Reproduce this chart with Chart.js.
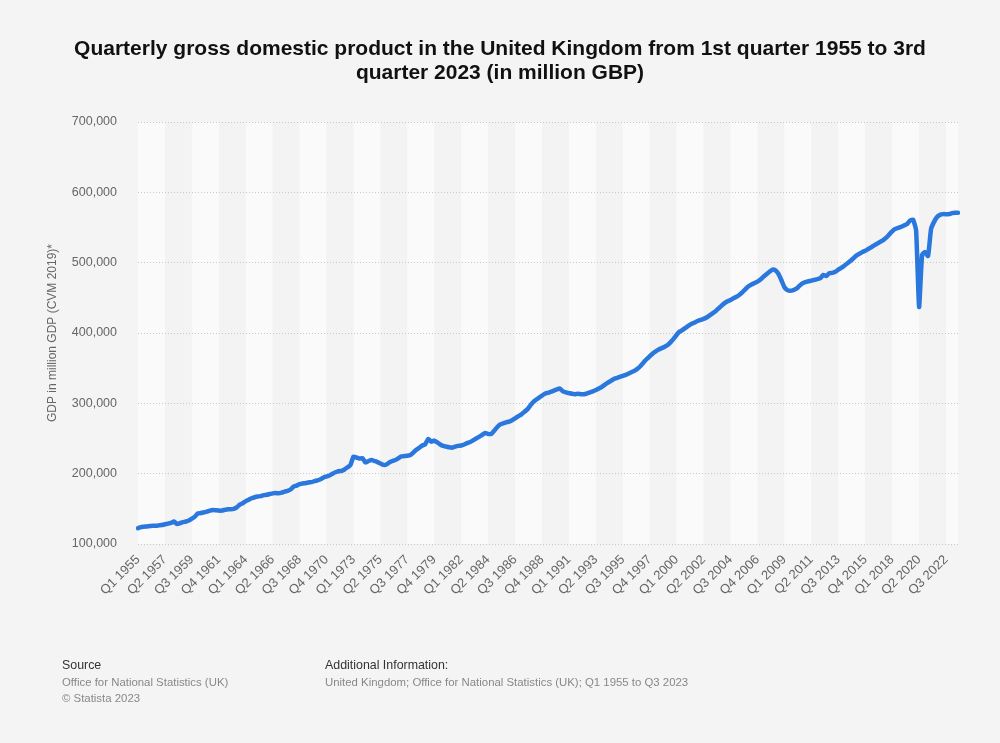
<!DOCTYPE html>
<html>
<head>
<meta charset="utf-8">
<script src="https://cdn.jsdelivr.net/npm/chart.js@4/dist/chart.umd.min.js"></script>
<style>
  html, body { margin: 0; padding: 0; background: #f4f4f4; }
  body { width: 1000px; height: 743px; position: relative; overflow: hidden; font-family: "Liberation Sans", Arial, sans-serif; }
  #title { position: absolute; left: 0; top: 36px; width: 1000px; text-align: center; font-weight: bold; font-size: 21px; line-height: 24px; color: #111; }
  #chartBox { position: absolute; left: 0; top: 0; width: 1000px; height: 743px; }
  .foot { position: absolute; top: 657px; line-height: 16.5px; }
  .foot .h { font-size: 12.4px; color: #333; }
  .foot .t { font-size: 11.4px; color: #888; }
</style>
</head>
<body>
<div id="chartBox"><canvas id="c" width="1000" height="743"></canvas></div>
<div id="title">Quarterly gross domestic product in the United Kingdom from 1st quarter 1955 to 3rd<br>quarter 2023 (in million GBP)</div>
<div class="foot" style="left:62px;"><div class="h">Source</div><div class="t">Office for National Statistics (UK)</div><div class="t">© Statista 2023</div></div>
<div class="foot" style="left:325px;"><div class="h">Additional Information:</div><div class="t">United Kingdom; Office for National Statistics (UK); Q1 1955 to Q3 2023</div></div>
<script>
const firstYear = 1955;
const lastYear = 2023;
const lastQuarter = 3;
const quarterNames = ["Q1", "Q2", "Q3", "Q4"];
const tickEvery = 9;
const yTicks = [100000, 200000, 300000, 400000, 500000, 600000, 700000];
const yTitle = "GDP in million GDP (CVM 2019)*";
const seriesName = "GDP";

const categories = [];
for (let y = firstYear; y <= lastYear; y++) {
  for (let q = 0; q < 4; q++) {
    if (y === lastYear && q >= lastQuarter) break;
    categories.push(quarterNames[q] + " " + y);
  }
}

const gdp = [
  122500, 124000, 124500, 125000,
  125500, 126000, 126000, 126500,
  127000, 128000, 129000, 130000,
  132000, 128500, 129500, 131000,
  132000, 133500, 136000, 139000,
  143500, 144000, 145000, 146000,
  147500, 148500, 148000, 147500,
  147500, 148500, 149500, 149500,
  150000, 152000, 156000, 158000,
  161000, 163000, 165000, 166500,
  167500, 168000, 169500, 170000,
  171000, 172000, 172500, 172000,
  173000, 174500, 175500, 177500,
  181500, 183000, 185000, 186000,
  186500, 187500, 188000, 189500,
  190500, 192000, 194500, 196000,
  197500, 200000, 202000, 203500,
  204000, 206000, 209000, 212500,
  224000, 223000, 221500, 222000,
  216000, 218000, 219500, 218000,
  216500, 214500, 212500, 213000,
  216000, 218000, 219500, 222000,
  224500, 225000, 225500, 226500,
  230000, 234000, 237000, 240000,
  242000, 249500, 245500, 247000,
  244500, 241500, 239500, 238500,
  237500, 237000, 238500, 239500,
  240000, 241500, 243500, 245000,
  247500, 250000, 252500, 255000,
  258000, 256500, 256500, 261000,
  266000, 270000, 271500, 273000,
  274000, 276000, 278500, 281500,
  284000, 287500, 291000, 296500,
  301500, 305000, 308000, 311000,
  313500, 315000, 316500, 318000,
  320000, 321000, 317000, 315500,
  314500, 313500, 313000, 313500,
  313000, 313000, 314000, 315500,
  317000, 319000, 321000, 323500,
  326500, 329500, 332000, 334500,
  336000, 337500, 339000, 340500,
  342500, 344500, 346500, 349500,
  353500, 358500, 363000, 367000,
  371000, 374000, 376500, 378500,
  380500, 383000, 387000, 392000,
  397500, 402000, 404500, 407500,
  410500, 413000, 415000, 417000,
  418500, 420000, 422000, 425000,
  428000, 431000, 435000, 439000,
  442500, 445000, 447000, 449500,
  451500, 454500, 458000, 462500,
  466500, 469000, 471000, 473000,
  476000, 480000, 483500, 487000,
  490000, 489000, 484000, 475000,
  465000, 461000, 460000, 461000,
  463000, 467000, 470500, 472500,
  473500, 474500, 475500, 476500,
  478000, 482500, 481000, 485000,
  485500, 487000, 490000, 492500,
  495500, 499000, 502500, 506000,
  510000, 512500, 515000, 517000,
  519500, 522000, 524500, 527000,
  529500, 532000, 535500, 540000,
  544500, 548000, 549500, 551000,
  553000, 555000, 560000, 561000,
  546000, 437000, 511000, 515000,
  509500, 548000, 558000, 565000,
  568000, 569000, 569000, 569000,
  570500, 571000, 571000
];

const stripePlugin = {
  id: 'stripes',
  beforeDraw(chart) {
    const { ctx, chartArea } = chart;
    const xs = chart.scales.x;
    ctx.save();
    let k = 0;
    for (let i = 0; i < categories.length; i += tickEvery, k++) {
      const x0 = xs.getPixelForValue(i);
      const xe = (i + tickEvery >= categories.length) ? chartArea.right : xs.getPixelForValue(i + tickEvery);
      ctx.fillStyle = (k % 2 === 0) ? '#fafafa' : '#f3f3f3';
      ctx.fillRect(x0, chartArea.top, xe - x0, chartArea.bottom - chartArea.top);
    }
    ctx.restore();
  }
};

Chart.defaults.font.family = '"Liberation Sans", Arial, sans-serif';

new Chart(document.getElementById('c'), {
  type: 'line',
  data: {
    labels: categories,
    datasets: [{
      label: seriesName,
      data: gdp,
      borderColor: '#2a77dd',
      borderWidth: 4.5,
      pointRadius: 0,
      tension: 0.15,
      borderJoinStyle: 'round',
      borderCapStyle: 'round',
      fill: false
    }]
  },
  options: {
    responsive: false,
    animation: false,
    layout: { padding: { left: 0, top: 122, right: 42, bottom: 0 } },
    plugins: { legend: { display: false }, tooltip: { enabled: false }, title: { display: false } },
    scales: {
      x: {
        type: 'category',
        offset: false,
        grid: { display: false, drawTicks: false },
        border: { display: false },
        ticks: {
          autoSkip: false,
          minRotation: 45,
          maxRotation: 45,
          padding: 8,
          color: '#666',
          font: { size: 13 },
          callback: function (v, i) { return (i % tickEvery === 0) ? categories[i] : ''; }
        },
        afterFit(scale) { scale.height = 743 - 544; }
      },
      y: {
        min: yTicks[0],
        max: yTicks[yTicks.length - 1],
        afterBuildTicks(scale) { scale.ticks = yTicks.map(v => ({ value: v })); },
        grid: { color: '#c8c8c8', drawTicks: false, lineWidth: 1 },
        border: { display: false, dash: [1, 2] },
        ticks: {
          padding: 21,
          color: '#666',
          font: { size: 12.5 },
          callback: v => v.toLocaleString('en-US')
        },
        title: {
          display: true,
          text: yTitle,
          color: '#666',
          font: { size: 12 },
          padding: { top: 45, bottom: 0 }
        },
        afterFit(scale) { scale.width = 138; }
      }
    }
  },
  plugins: [stripePlugin]
});
</script>
</body>
</html>
